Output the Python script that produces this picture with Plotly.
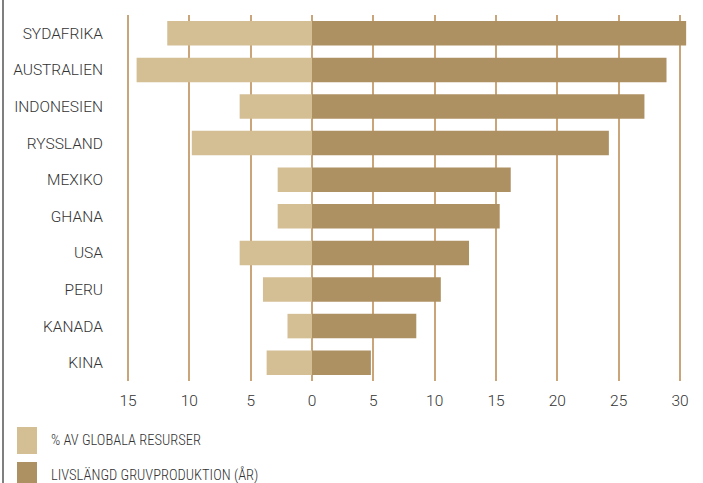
import plotly.graph_objects as go

countries = ["SYDAFRIKA", "AUSTRALIEN", "INDONESIEN", "RYSSLAND", "MEXIKO",
             "GHANA", "USA", "PERU", "KANADA", "KINA"]
global_share = [11.8, 14.3, 5.9, 9.8, 2.8, 2.8, 5.9, 4.0, 2.0, 3.7]
mine_life = [30.5, 28.9, 27.1, 24.2, 16.2, 15.3, 12.8, 10.5, 8.5, 4.8]
tick_vals = [-15, -10, -5, 0, 5, 10, 15, 20, 25, 30]
tick_text = ["15", "10", "5", "0", "5", "10", "15", "20", "25", "30"]
legend_names = ["% AV GLOBALA RESURSER", "LIVSLÄNGD GRUVPRODUKTION (ÅR)"]

light = "#d4be94"
dark = "#ae9162"
grid = "#cba57a"
txt = "#333333"
main_font = "Roboto, 'Open Sans', sans-serif"
narrow_font = "'Roboto Condensed', Roboto, sans-serif"

fig = go.Figure()
fig.add_trace(go.Bar(y=countries, x=[-v for v in global_share], orientation="h",
                     marker=dict(color=light, line=dict(width=0)), name=legend_names[0]))
fig.add_trace(go.Bar(y=countries, x=mine_life, orientation="h",
                     marker=dict(color=dark, line=dict(width=0)), name=legend_names[1]))

L, R, T, B = 116, 9, 15, 102
fig.update_layout(
    width=703, height=483,
    margin=dict(l=L, r=R, t=T, b=B),
    barmode="relative", bargap=0.33,
    plot_bgcolor="white", paper_bgcolor="white",
    showlegend=False,
    font=dict(family=main_font, size=15, color=txt, weight=300),
)
fig.update_xaxes(range=[-15.98, 31.14], tickvals=tick_vals, ticktext=tick_text,
                 showgrid=True, gridcolor=grid, gridwidth=1.5,
                 zeroline=True, zerolinecolor=grid, zerolinewidth=1.5,
                 showline=False, ticks="", ticklabelstandoff=8,
                 tickfont=dict(family=main_font, size=15.5, color=txt, weight=300),
                 fixedrange=True)
fig.update_yaxes(autorange="reversed", showgrid=False, showline=False, ticks="",
                 ticklabelstandoff=12,
                 tickfont=dict(family=main_font, size=15.5, color=txt, weight=300),
                 fixedrange=True)

plot_w = 703 - L - R
plot_h = 483 - T - B
def px_x(p):
    return (p - L) / plot_w
def px_y(p):
    return (483 - B - p) / plot_h

# left border line
fig.add_shape(type="line", xref="paper", yref="paper",
              x0=px_x(3), x1=px_x(3), y0=px_y(-5), y1=px_y(490),
              line=dict(color="#555555", width=1.5))

# custom legend
colors = [light, dark]
tops = [427, 462]
for name, col, top in zip(legend_names, colors, tops):
    fig.add_shape(type="rect", xref="paper", yref="paper",
                  x0=px_x(17), x1=px_x(37), y0=px_y(top), y1=px_y(top + 27),
                  fillcolor=col, line=dict(width=0))
    fig.add_annotation(xref="paper", yref="paper", x=px_x(49), y=px_y(top + 13),
                       text=name, showarrow=False, xanchor="left", yanchor="middle",
                       font=dict(family=narrow_font, size=14.5, color=txt, weight=300))

fig.write_html("out.html")
